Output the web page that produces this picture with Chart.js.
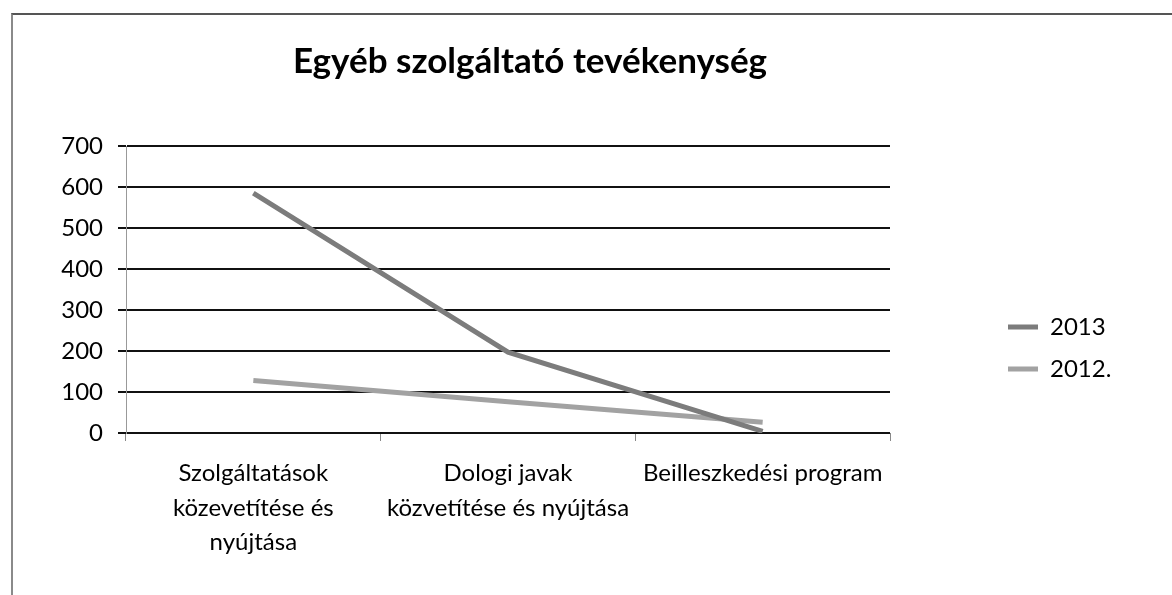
<!DOCTYPE html>
<html>
<head>
<meta charset="utf-8">
<script src="https://cdn.jsdelivr.net/npm/chart.js@4"></script>
<style>
  html, body { margin: 0; padding: 0; background: #fff; }
  #wrap { position: relative; width: 1172px; height: 595px; }
  #frame { position: absolute; left: 11px; top: 13px; right: 0; bottom: 0;
           border-left: 2px solid #8a8a8a; border-top: 2px solid #555; }
  canvas { position: absolute; left: 0; top: 0; }
</style>
</head>
<body>
<div id="wrap">
  <div id="frame"></div>
  <canvas id="chart" width="1172" height="595"></canvas>
</div>
<script>
const categories = [
    ['Szolgáltatások', 'közevetítése és', 'nyújtása'],
    ['Dologi javak', 'közvetítése és nyújtása'],
    'Beilleszkedési program'
];
const seriesNames = ['2013', '2012.'];
const values2013 = [585, 197, 4];
const values2012 = [128, 76, 26];
const yMin = 0, yMax = 700, yStep = 100;

const FONT = 'Lato, "Open Sans", sans-serif';

// move title and legend to where the original has them
const placeBoxes = {
    id: 'placeBoxes',
    afterLayout(chart) {
        const t = chart.titleBlock;
        if (t) {
            const d = 530 - (t.left + t.right) / 2;
            t.left += d;
            t.right += d;
        }
        const lg = chart.legend;
        if (lg) {
            const w = lg.width, h = lg.height;
            lg.left = 990;
            lg.right = 990 + w;
            lg.top = 297;
            lg.bottom = 297 + h;
        }
    }
};

const ctx = document.getElementById('chart').getContext('2d');
new Chart(ctx, {
    type: 'line',
    data: {
        labels: categories,
        datasets: [
            {
                label: seriesNames[0],
                data: values2013,
                borderColor: '#7c7c7c',
                backgroundColor: '#7c7c7c',
                borderWidth: 5,
                pointRadius: 0,
                pointStyle: 'line',
                tension: 0
            },
            {
                label: seriesNames[1],
                data: values2012,
                borderColor: '#a2a2a2',
                backgroundColor: '#a2a2a2',
                borderWidth: 5,
                pointRadius: 0,
                pointStyle: 'line',
                tension: 0
            }
        ]
    },
    options: {
        responsive: false,
        animation: false,
        layout: { padding: { left: 0, right: 282, top: 0, bottom: 0 } },
        plugins: {
            title: {
                display: true,
                text: 'Egyéb szolgáltató tevékenység',
                color: '#000',
                font: { family: FONT, size: 35, weight: 'bold', lineHeight: 1.2 },
                padding: { top: 41, bottom: 63 }
            },
            legend: {
                position: 'chartArea',
                align: 'start',
                labels: {
                    usePointStyle: true,
                    pointStyleWidth: 30,
                    color: '#000',
                    padding: 18,
                    font: { family: FONT, size: 24 }
                }
            },
            tooltip: { enabled: false }
        },
        scales: {
            x: {
                offset: true,
                grid: {
                    offset: true,
                    drawOnChartArea: false,
                    tickLength: 8,
                    color: '#888',
                    lineWidth: 1
                },
                border: { display: false },
                ticks: {
                    color: '#000',
                    padding: 15,
                    maxRotation: 0,
                    autoSkip: false,
                    font: { family: FONT, size: 24, lineHeight: 1.44 }
                },
                afterFit(scale) { scale.height = 162; }
            },
            y: {
                min: yMin,
                max: yMax,
                ticks: {
                    stepSize: yStep,
                    color: '#000',
                    padding: 15,
                    font: { family: FONT, size: 24 }
                },
                grid: { color: '#111', lineWidth: 2, tickLength: 8 },
                border: { color: '#999', width: 1 },
                afterFit(scale) { scale.width = 126; }
            }
        }
    },
    plugins: [placeBoxes]
});
</script>
</body>
</html>
